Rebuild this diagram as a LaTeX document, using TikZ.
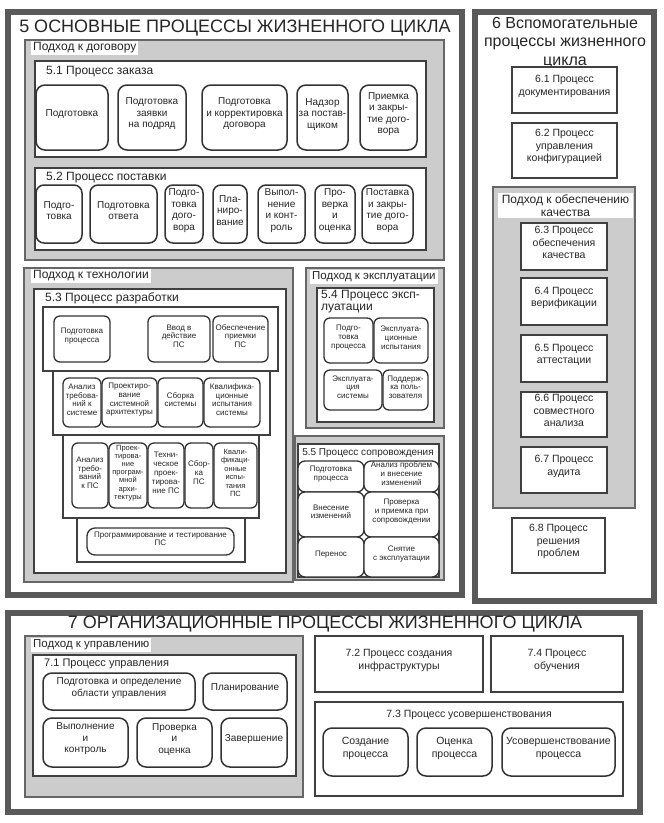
\documentclass[tikz,border=0pt]{standalone}
\usepackage{fontspec}
\setmainfont{Liberation Sans}
\usetikzlibrary{fit}

\begin{document}
\begin{tikzpicture}[x=1pt, y=-1pt,
  every node/.style={text=black!85, inner sep=0pt},
  lcframe/.style={draw=black!65, line width=6pt},
  approach/.style={draw=black!60, line width=1.2pt, fill=black!20},
  tagbox/.style={fill=white, anchor=north west, inner xsep=2pt, inner ysep=1.5pt, font=\fontsize{12}{12.5}\selectfont},
  stagebox/.style={draw=black!75, line width=1.6pt, fill=white},
  tierbox/.style={draw=black!75, line width=1.2pt, fill=white},
  boxtitle/.style={anchor=west, font=\fontsize{12}{12.5}\selectfont},
  bigtitle/.style={font=\fontsize{18}{19}\selectfont},
  procbox/.style={draw=black!80, line width=1.5pt, fill=white, rounded corners=9pt, align=center, font=\fontsize{10}{11.5}\selectfont},
  smallbox/.style={draw=black!80, line width=1.3pt, fill=white, rounded corners=6pt, align=center, font=\fontsize{8}{8.8}\selectfont},
  unitbox/.style={draw=black!75, line width=1.5pt, fill=white, align=center, font=\fontsize{10.5}{12.5}\selectfont},
]
\useasboundingbox (0,0) rectangle (664,823);

% frames
\node[lcframe, fit={(8,12)(462,595)}] (f5) {};
\node[lcframe, fit={(475,12)(654,601)}] (f6) {};
\node[lcframe, fit={(8,613)(640,812)}] (f7) {};
\node[bigtitle] (t5) at (235,28) {5 ОСНОВНЫЕ ПРОЦЕССЫ ЖИЗНЕННОГО ЦИКЛА};
\node[bigtitle, align=center, font=\fontsize{16}{18.5}\selectfont] (t6) at (565,43) {6 Вспомогательные\\процессы жизненного\\цикла};
\node[bigtitle] (t7) at (325,624) {7 ОРГАНИЗАЦИОННЫЕ ПРОЦЕССЫ ЖИЗНЕННОГО ЦИКЛА};

% 5: contract
\node[approach, fit={(25,40)(444,260)}] (adog) {};
\node[tagbox] (adogt) at (31,41) {Подход к договору};
\node[stagebox, fit={(35,61)(426,157)}] (p51) {};
\node[boxtitle] (p51t) at (46,72) {5.1 Процесс заказа};
\node[procbox, fit={(36,85)(108,150)}] (z1) {Подготовка};
\node[procbox, fit={(118,85)(186,150)}] (z2) {Подготовка\\заявки\\на подряд};
\node[procbox, fit={(202,85)(287,150)}] (z3) {Подготовка\\и корректировка\\договора};
\node[procbox, fit={(297,85)(348,150)}] (z4) {Надзор\\за постав-\\щиком};
\node[procbox, fit={(360,85)(417,150)}] (z5) {Приемка\\и закры-\\тие дого-\\вора};

\node[stagebox, fit={(35,168)(426,250)}] (p52) {};
\node[boxtitle] (p52t) at (46,178) {5.2 Процесс поставки};
\node[procbox, rounded corners=8pt, fit={(36,185)(82,243)}] (s1) {Подго-\\товка};
\node[procbox, rounded corners=8pt, fit={(90,185)(157,243)}] (s2) {Подготовка\\ответа};
\node[procbox, rounded corners=8pt, fit={(165,185)(203,243)}] (s3) {Подго-\\товка\\дого-\\вора};
\node[procbox, rounded corners=8pt, fit={(213,185)(247,243)}] (s4) {Пла-\\ниро-\\вание};
\node[procbox, rounded corners=8pt, fit={(258,185)(305,243)}] (s5) {Выпол-\\нение\\и конт-\\роль};
\node[procbox, rounded corners=8pt, fit={(315,185)(355,243)}] (s6) {Про-\\верка\\и\\оценка};
\node[procbox, rounded corners=8pt, fit={(362,185)(413,243)}] (s7) {Поставка\\и закры-\\тие дого-\\вора};

% 5: technology
\node[approach, fit={(24,268)(293,582)}] (atech) {};
\node[tagbox] (atecht) at (31,269) {Подход к технологии};
\node[stagebox, fit={(34,289)(286,573)}] (p53) {};
\node[boxtitle] (p53t) at (45,298) {5.3 Процесс разработки};
\node[tierbox, fit={(43,307)(278,371)}] (r1) {};
\node[tierbox, fit={(53,371)(270,435)}] (r2) {};
\node[tierbox, fit={(63,435)(259,518)}] (r3) {};
\node[tierbox, fit={(77,518)(245,562)}] (r4) {};
\node[smallbox, fit={(54,316)(110,362)}] (d1) {Подготовка\\процесса};
\node[smallbox, fit={(148,316)(210,362)}] (d2) {Ввод в\\действие\\ПС};
\node[smallbox, fit={(213,316)(268,362)}] (d3) {Обеспечение\\приемки\\ПС};
\node[smallbox, fit={(63,378)(101,427)}] (d4) {Анализ\\требова-\\ний к\\системе};
\node[smallbox, fit={(102,378)(157,427)}] (d5) {Проектиро-\\вание\\системной\\архитектуры};
\node[smallbox, fit={(158,378)(203,427)}] (d6) {Сборка\\системы};
\node[smallbox, fit={(204,378)(260,427)}] (d7) {Квалифика-\\ционные\\испытания\\системы};
\node[smallbox, fit={(72,443)(108,508)}] (d8) {Анализ\\требо-\\ваний\\к ПС};
\node[smallbox, font=\fontsize{7.5}{8.2}\selectfont, fit={(109,443)(147,508)}] (d9) {Проек-\\тирова-\\ние\\програм-\\мной\\архи-\\тектуры};
\node[smallbox, fit={(148,443)(184,508)}] (d10) {Техни-\\ческое\\проек-\\тирова-\\ние ПС};
\node[smallbox, fit={(185,443)(213,508)}] (d11) {Сбор-\\ка\\ПС};
\node[smallbox, font=\fontsize{7.5}{8.4}\selectfont, fit={(214,443)(257,508)}] (d12) {Квали-\\фикаци-\\онные\\испы-\\тания\\ПС};
\node[smallbox, rounded corners=8pt, fit={(87,528)(234,555)}] (d13) {Программирование и тестирование\\ПС};

% 5: operation
\node[approach, fit={(306,268)(444,428)}] (aexp) {};
\node[tagbox, font=\fontsize{11.5}{12}\selectfont] (aexpt) at (310,270) {Подход к эксплуатации};
\node[stagebox, fit={(317,288)(434,422)}] (p54) {};
\node[boxtitle, anchor=north west, align=left, font=\fontsize{12}{12}\selectfont] (p54t) at (321,290) {5.4 Процесс эксп-\\луатации};
\node[smallbox, fit={(324,318)(373,363)}] (e1) {Подго-\\товка\\процесса};
\node[smallbox, fit={(374,318)(428,363)}] (e2) {Эксплуата-\\ционные\\испытания};
\node[smallbox, fit={(324,370)(382,410)}] (e3) {Эксплуата-\\ция\\системы};
\node[smallbox, fit={(383,370)(428,410)}] (e4) {Поддерж-\\ка поль-\\зователя};

% 5: maintenance
\node[approach, fit={(295,436)(444,580)}] (asop) {};
\node[tierbox, fit={(298,444)(439,577)}] (p55) {};
\node[font=\fontsize{10}{12}\selectfont] (p55t) at (368,453) {5.5 Процесс сопровождения};
\node[smallbox, rounded corners=7pt, fit={(298,461)(364,492)}] (m1) {Подготовка\\процесса};
\node[smallbox, rounded corners=7pt, fit={(364,461)(439,492)}] (m2) {Анализ проблем\\и внесение\\изменений};
\node[smallbox, rounded corners=7pt, fit={(298,492)(364,537)}] (m3) {Внесение\\изменений};
\node[smallbox, rounded corners=7pt, fit={(364,492)(439,537)}] (m4) {Проверка\\и приемка при\\сопровождении};
\node[smallbox, rounded corners=7pt, fit={(298,537)(364,577)}] (m5) {Перенос};
\node[smallbox, rounded corners=7pt, fit={(364,537)(439,577)}] (m6) {Снятие\\с эксплуатации};

% 6: support
\node[unitbox, fit={(512,67)(617,113)}] (u1) {6.1 Процесс\\документирования};
\node[unitbox, fit={(512,123)(617,178)}] (u2) {6.2 Процесс\\управления\\конфигурацией};
\node[approach, fit={(493,187)(635,508)}] (aqual) {};
\node[tagbox, anchor=center, align=center, minimum width=135pt, minimum height=25pt] (aqualt) at (565.5,205.5) {Подход к обеспечению\\качества};
\node[unitbox, fit={(521,223)(607,270)}] (u3) {6.3 Процесс\\обеспечения\\качества};
\node[unitbox, fit={(521,278)(607,325)}] (u4) {6.4 Процесс\\верификации};
\node[unitbox, fit={(521,335)(607,382)}] (u5) {6.5 Процесс\\аттестации};
\node[unitbox, fit={(521,392)(607,437)}] (u6) {6.6 Процесс\\совместного\\анализа};
\node[unitbox, fit={(521,447)(607,493)}] (u7) {6.7 Процесс\\аудита};
\node[unitbox, fit={(512,518)(605,573)}] (u8) {6.8 Процесс\\решения\\проблем};

% 7: organizational
\node[approach, fit={(25,636)(303,797)}] (aupr) {};
\node[tagbox, font=\fontsize{11.5}{12}\selectfont] (auprt) at (31,638) {Подход к управлению};
\node[stagebox, fit={(33,655)(296,776)}] (p71) {};
\node[boxtitle, font=\fontsize{11}{12}\selectfont] (p71t) at (44,664) {7.1 Процесс управления};
\node[procbox, fit={(43,673)(195,710)}] (g1) {Подготовка и определение\\области управления};
\node[procbox, fit={(203,673)(287,710)}] (g2) {Планирование};
\node[procbox, fit={(43,718)(128,767)}] (g3) {Выполнение\\и\\контроль};
\node[procbox, fit={(137,718)(212,767)}] (g4) {Проверка\\и\\оценка};
\node[procbox, fit={(221,718)(287,767)}] (g5) {Завершение};
\node[unitbox, fit={(315,636)(483,692)}] (p72) {7.2 Процесс создания\\инфраструктуры};
\node[unitbox, fit={(491,636)(623,692)}] (p74) {7.4 Процесс\\обучения};
\node[unitbox, fit={(315,702)(623,796)}] (p73) {};
\node[font=\fontsize{10.5}{12}\selectfont] (p73t) at (469,715) {7.3 Процесс усовершенствования};
\node[procbox, font=\fontsize{10.5}{12.5}\selectfont, fit={(323,728)(408,776)}] (v1) {Создание\\процесса};
\node[procbox, font=\fontsize{10.5}{12.5}\selectfont, fit={(417,728)(492,776)}] (v2) {Оценка\\процесса};
\node[procbox, font=\fontsize{10.5}{12.5}\selectfont, fit={(502,728)(615,776)}] (v3) {Усовершенствование\\процесса};
\end{tikzpicture}
\end{document}
